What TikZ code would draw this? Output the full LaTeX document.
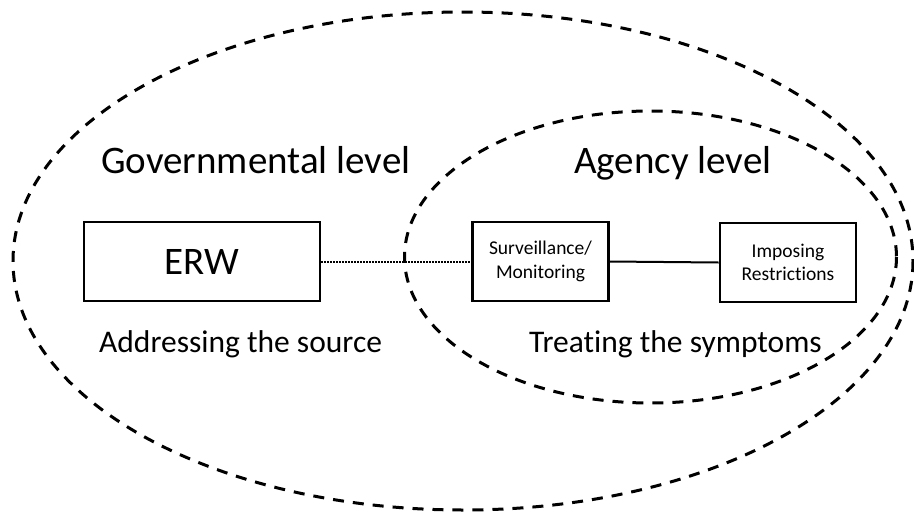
\documentclass[tikz,border=0pt]{standalone}
\usepackage{fontspec}
\setmainfont{Carlito}[Ligatures=NoCommon]
\begin{document}
\begin{tikzpicture}[x=1pt,y=-1pt,
  levelring/.style={line width=3pt, dash pattern=on 11pt off 9pt},
  bigbox/.style={draw, line width=2.6pt, minimum width=236pt, minimum height=79pt, inner sep=0pt, font=\fontsize{39}{47}\selectfont},
  smallbox/.style={draw, line width=2.6pt, minimum width=136pt, minimum height=79pt, inner sep=0pt, align=center, font=\fontsize{19.5}{23.5}\selectfont},
  bigtext/.style={anchor=base west, inner sep=0pt, font=\fontsize{39}{47}\selectfont},
  midtext/.style={anchor=base west, inner sep=0pt, font=\fontsize{31.5}{38}\selectfont},
  dotline/.style={line width=2pt, dash pattern=on 1.6pt off 1.4pt},
  solidline/.style={line width=2pt}]
\useasboundingbox (0,0) rectangle (914,512);
% outer and inner levels
\draw[levelring] (463,261) ellipse [x radius=450, y radius=249];
\draw[levelring] (650.5,257) ellipse [x radius=246, y radius=146];
% labels
\node[bigtext] (gov) at (101,173) {Governmental level};
\node[bigtext] (agency) at (574,173) {Agency level};
\node[midtext] (addr) at (99,352) {Addressing the source};
\node[midtext] (treat) at (529,352) {Treating the symptoms};
% boxes
\node[bigbox] (erw) at (202,261.5) {ERW};
\node[smallbox] (surv) at (540.5,261.5) {Surveillance/\\Monitoring};
\node[smallbox] (imp) at (788,262.5) {Imposing\\Restrictions};
% connectors
\draw[dotline] (erw.east) -- (surv.west);
\draw[solidline] (surv.east) -- (imp.west);
\end{tikzpicture}
\end{document}
